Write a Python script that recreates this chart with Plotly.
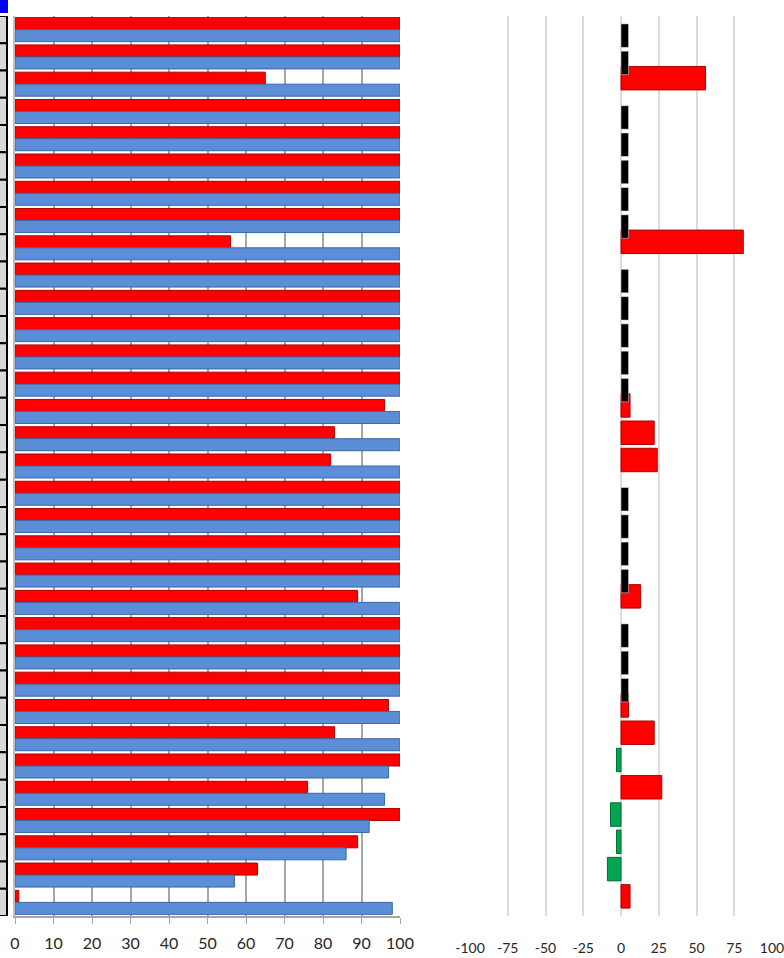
import plotly.graph_objects as go

# ---------------- data ----------------
categories = [f"R{i+1}" for i in range(33)]

red_values = [100, 100, 65, 100, 100, 100, 100, 100, 56, 100,
              100, 100, 100, 100, 96, 83, 82, 100, 100, 100,
              100, 89, 100, 100, 100, 97, 83, 100, 76, 100,
              89, 63, 1]

blue_values = [100, 100, 100, 100, 100, 100, 100, 100, 100, 100,
               100, 100, 100, 100, 100, 100, 100, 100, 100, 100,
               100, 100, 100, 100, 100, 100, 100, 97, 96, 92,
               86, 57, 98]

diff_values = [0, 0, 56, 0, 0, 0, 0, 0, 81, 0,
               0, 0, 0, 0, 6, 22, 24, 0, 0, 0,
               0, 13, 0, 0, 0, 5, 22, -3, 27, -7,
               -3, -9, 6]

left_ticks = [0, 10, 20, 30, 40, 50, 60, 70, 80, 90, 100]
right_ticks = [-100, -75, -50, -25, 0, 25, 50, 75, 100]

# ---------------- styling ----------------
W, H = 784, 958
RED = "#FF0000"
RED_DARK = "#B00000"
BLUE = "#5B8ED6"
BLUE_DARK = "#3A68A8"
GREEN = "#00A650"
GREEN_DARK = "#006B33"
ZERO_MARK = 5  # visual width of the "no change" marker

fig = go.Figure()

fig.add_trace(go.Bar(
    y=categories, x=red_values, orientation="h", name="red",
    marker=dict(color=RED, line=dict(color=RED_DARK, width=1)),
    xaxis="x", yaxis="y", showlegend=False,
))
fig.add_trace(go.Bar(
    y=categories, x=blue_values, orientation="h", name="blue",
    marker=dict(color=BLUE, line=dict(color=BLUE_DARK, width=1)),
    xaxis="x", yaxis="y", showlegend=False,
))

diff_colors = [RED if d > 0 else GREEN for d in diff_values]
diff_lines = [RED_DARK if d > 0 else GREEN_DARK for d in diff_values]
fig.add_trace(go.Bar(
    y=categories, x=[d if d != 0 else None for d in diff_values],
    orientation="h", width=0.86,
    marker=dict(color=diff_colors, line=dict(color=diff_lines, width=1)),
    xaxis="x2", yaxis="y2", showlegend=False,
))
fig.add_trace(go.Bar(
    y=categories, x=[ZERO_MARK if d == 0 else None for d in diff_values],
    orientation="h", width=0.86,
    marker=dict(color="#000000"),
    xaxis="x2", yaxis="y2", showlegend=False,
))

# left-edge table column
shapes = []
for i, c in enumerate(categories):
    shapes.append(dict(
        type="rect", xref="paper", yref="y",
        x0=-2 / W, x1=7 / W, y0=i - 0.5, y1=i + 0.5,
        fillcolor="#D9D9D9", line=dict(color="#000000", width=2), layer="above",
    ))
shapes.append(dict(
    type="rect", xref="paper", yref="paper",
    x0=0, x1=8 / W, y0=1.0 + 3 / 900, y1=1 + 16 / 900,
    fillcolor="#0000FF", line=dict(width=0), layer="above",
))

fig.update_layout(
    width=W, height=H,
    margin=dict(l=0, r=0, t=16, b=42, autoexpand=False),
    paper_bgcolor="white", plot_bgcolor="white",
    barmode="group", bargap=0.12, bargroupgap=0.0,
    font=dict(family="Lato, Open Sans, sans-serif", color="#262626"),
    shapes=shapes,
    xaxis=dict(
        domain=[15 / W, 400 / W], range=[0, 100], automargin=False,
        tickvals=left_ticks, ticktext=[str(t) for t in left_ticks],
        showgrid=True, gridcolor="#A6A6A6", gridwidth=1.5,
        showline=True, linecolor="#A6A6A6", linewidth=1.5,
        ticks="outside", ticklen=6, tickcolor="#A6A6A6",
        tickfont=dict(size=16), zeroline=False, fixedrange=True,
        ticklabeloverflow="allow", ticklabelstandoff=6,
    ),
    yaxis=dict(
        domain=[0, 1], range=[32.5, -0.5], automargin=False,
        categoryorder="array", categoryarray=categories,
        showticklabels=False, showgrid=False, zeroline=False,
        showline=True, linecolor="#BFBFBF", linewidth=1.5,
    ),
    xaxis2=dict(
        domain=[470 / W, 772 / W], range=[-100, 100], automargin=False,
        tickvals=right_ticks, ticktext=[str(t) for t in right_ticks],
        showgrid=True, gridcolor="#DCDCDC", gridwidth=1.5,
        showline=False, ticks="", zeroline=False,
        tickfont=dict(size=14), ticklabelstandoff=22, anchor="y2",
        ticklabeloverflow="allow",
    ),
    yaxis2=dict(
        domain=[0, 1], range=[32.5, -0.5], anchor="x2", automargin=False,
        categoryorder="array", categoryarray=categories,
        showticklabels=False, showgrid=False, zeroline=False, showline=False,
    ),
)

fig.write_html(
    "out.html",
    config={"displayModeBar": False},
    post_script="document.body.style.margin='0';document.body.style.overflow='hidden';",
)
